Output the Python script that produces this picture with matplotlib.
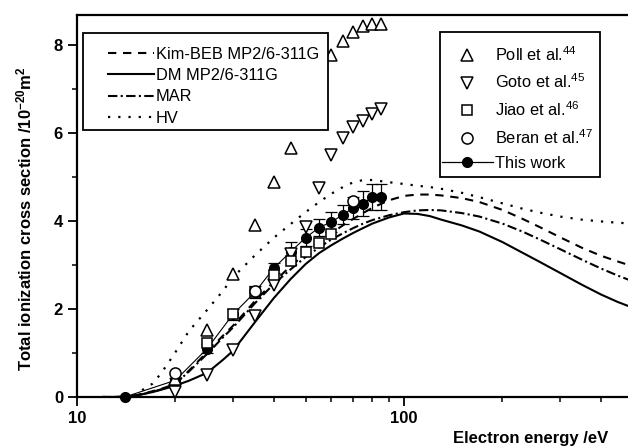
import matplotlib
matplotlib.use("Agg")
import matplotlib.pyplot as plt
from matplotlib.lines import Line2D
from matplotlib.patches import Rectangle
from matplotlib.ticker import FixedLocator, MultipleLocator, NullFormatter, FuncFormatter, LogLocator

plt.rcParams["font.family"] = ["Liberation Sans", "DejaVu Sans"]
plt.rcParams["mathtext.fontset"] = "custom"
plt.rcParams["mathtext.rm"] = "Liberation Sans"
plt.rcParams["mathtext.bf"] = "Liberation Sans:bold"
plt.rcParams["mathtext.it"] = "Liberation Sans:italic"

# --- theory curves ---
E_curve = [12, 13, 14, 15, 16, 17, 18, 19, 20, 22, 25, 28, 30, 35, 40, 45, 50, 55, 60, 65,
           70, 75, 80, 90, 100, 110, 120, 130, 150, 170, 200, 230, 260, 300, 350, 400, 450, 500]
kim_beb = [0, 0, 0.01, 0.03, 0.08, 0.13, 0.18, 0.24, 0.30, 0.60, 1.02, 1.40, 1.62, 2.18, 2.62, 2.97,
           3.27, 3.52, 3.72, 3.90, 4.05, 4.18, 4.30, 4.47, 4.57, 4.60, 4.60, 4.58, 4.52, 4.43, 4.25,
           4.05, 3.86, 3.63, 3.39, 3.21, 3.08, 2.97]
dm = [0, 0, 0.01, 0.03, 0.07, 0.11, 0.16, 0.21, 0.26, 0.37, 0.55, 0.85, 1.05, 1.70, 2.25, 2.68,
      3.02, 3.27, 3.45, 3.60, 3.73, 3.84, 3.94, 4.08, 4.17, 4.16, 4.11, 4.03, 3.90, 3.76, 3.52,
      3.28, 3.07, 2.82, 2.55, 2.33, 2.16, 2.03]
mar = [0, 0, 0.01, 0.03, 0.07, 0.12, 0.17, 0.23, 0.30, 0.58, 0.98, 1.36, 1.58, 2.13, 2.57, 2.90,
       3.18, 3.40, 3.58, 3.72, 3.84, 3.94, 4.02, 4.13, 4.20, 4.24, 4.25, 4.24, 4.18, 4.10, 3.94,
       3.76, 3.58, 3.36, 3.12, 2.92, 2.76, 2.63]
hv = [0, 0, 0, 0.04, 0.18, 0.30, 0.52, 0.77, 1.02, 1.50, 1.98, 2.42, 2.72, 3.22, 3.62, 3.93,
      4.20, 4.43, 4.62, 4.77, 4.88, 4.93, 4.93, 4.88, 4.84, 4.80, 4.77, 4.73, 4.64, 4.54, 4.40,
      4.28, 4.19, 4.10, 4.03, 3.99, 3.96, 3.94]

# --- experimental data ---
E_exp = [20, 25, 30, 35, 40, 45, 50, 55, 60, 65, 70, 75, 80, 85]
poll = [0.41, 1.52, 2.79, 3.91, 4.88, 5.65, 6.45, 7.15, 7.77, 8.08, 8.30, 8.42, 8.48, 8.48]
goto = [0.12, 0.50, 1.07, 1.85, 2.55, 3.25, 3.87, 4.76, 5.50, 5.88, 6.14, 6.28, 6.43, 6.54]

E_jiao = [25, 30, 35, 40, 45, 50, 55, 60]
jiao = [1.23, 1.88, 2.39, 2.77, 3.08, 3.30, 3.50, 3.70]

E_beran = [20, 35, 70]
beran = [0.54, 2.41, 4.46]

E_tw = [14, 20, 25, 30, 35, 40, 45, 50, 55, 60, 65, 70, 75, 80, 85]
this_work = [0.0, 0.38, 1.10, 1.88, 2.38, 2.93, 3.30, 3.62, 3.85, 3.98, 4.14, 4.30, 4.39, 4.55, 4.55]
tw_err = [0, 0.05, 0.10, 0.13, 0.14, 0.12, 0.22, 0.20, 0.20, 0.23, 0.22, 0.25, 0.28, 0.30, 0.30]

W, H = 628, 446
fig = plt.figure(figsize=(W / 100, H / 100), dpi=100)
ax = fig.add_axes([77 / W, 1 - 397 / H, (628 - 77) / W, (397 - 15) / H])

lw = 1.5
ax.plot(E_curve, kim_beb, color="k", lw=lw, dashes=(4, 3.2), zorder=2)
ax.plot(E_curve, dm, color="k", lw=lw, zorder=2)
ax.plot(E_curve, mar, color="k", lw=lw, dashes=(4.5, 1.6, 1, 1.6), zorder=2)
ax.plot(E_curve, hv, color="k", lw=1.6, dashes=(1, 3.6), zorder=2)

eb = ax.errorbar(E_tw, this_work, yerr=tw_err, fmt="-o", color="k", ms=7, lw=0.8,
                 elinewidth=0.9, capsize=4.5, capthick=0.9, zorder=3)
for art in [eb.lines[0], *eb.lines[1], *eb.lines[2]]:
    art.set_clip_on(False)

mk = dict(color="k", mfc="white", mec="k", mew=1.1, ls="none", clip_on=False)
ax.plot(E_exp, goto, marker="v", ms=8.5, zorder=3.1, **mk)
ax.plot(E_exp, poll, marker="^", ms=8.5, zorder=3.1, **mk)
ax.plot(E_jiao, jiao, marker="s", ms=7, zorder=3.2, **mk)
ax.plot(E_beran, beran, marker="o", ms=8, zorder=3.3, **mk)

ax.set_xscale("log")
ax.set_xlim(10, 484)
ax.set_ylim(0, 8.68)
ax.xaxis.set_major_locator(FixedLocator([10, 100]))
ax.xaxis.set_major_formatter(FuncFormatter(lambda v, p: f"{v:.0f}"))
ax.xaxis.set_minor_locator(LogLocator(base=10, subs=range(2, 10)))
ax.xaxis.set_minor_formatter(NullFormatter())
ax.yaxis.set_major_locator(MultipleLocator(2))
ax.yaxis.set_minor_locator(MultipleLocator(1))

for s in ["left", "bottom", "top"]:
    ax.spines[s].set_linewidth(1.6)
ax.spines["right"].set_visible(False)
ax.tick_params(which="major", direction="out", length=6.5, width=1.3, labelsize=12, pad=3.5)
ax.tick_params(which="minor", direction="out", length=3.5, width=1.1)
for lab in ax.get_xticklabels() + ax.get_yticklabels():
    lab.set_fontweight("bold")

# axis labels
fig.text(608 / W, 1 - 438 / H, "Electron energy /eV", ha="right", va="center",
         fontsize=12, fontweight="bold")
fig.text(24 / W, 1 - 219 / H,
         r"Total ionization cross section /10$^{\mathbf{-20}}$m$^{\mathbf{2}}$",
         rotation=90, ha="center", va="center", fontsize=12, fontweight="bold")

# legend boxes
for (x0, y0, x1, y1) in [(83, 33, 328, 130), (440, 32, 600, 177)]:
    ax.add_patch(Rectangle((x0 / W, 1 - y1 / H), (x1 - x0) / W, (y1 - y0) / H,
                           transform=fig.transFigure, facecolor="white", edgecolor="k",
                           lw=1.3, zorder=4, clip_on=False))

h1 = [Line2D([], [], color="k", lw=lw, dashes=(4, 3.2)),
      Line2D([], [], color="k", lw=lw),
      Line2D([], [], color="k", lw=lw, dashes=(4.5, 1.6, 1, 1.6)),
      Line2D([], [], color="k", lw=1.6, dashes=(1, 3.6))]
l1 = ["Kim-BEB MP2/6-311G", "DM MP2/6-311G", "MAR", "HV"]
leg1 = ax.legend(h1, l1, loc="upper left", bbox_to_anchor=(108 / W, 1 - 47 / H),
                 bbox_transform=fig.transFigure, frameon=False, fontsize=11.8,
                 handlelength=2.8, handletextpad=0.1, labelspacing=0.38,
                 borderpad=0, borderaxespad=0)
leg1.set_zorder(5)
ax.add_artist(leg1)

h2 = [Line2D([], [], marker="^", ms=8.5, mfc="white", mec="k", mew=1.1, ls="none"),
      Line2D([], [], marker="v", ms=8.5, mfc="white", mec="k", mew=1.1, ls="none"),
      Line2D([], [], marker="s", ms=7, mfc="white", mec="k", mew=1.1, ls="none"),
      Line2D([], [], marker="o", ms=8, mfc="white", mec="k", mew=1.1, ls="none"),
      Line2D([], [], marker="o", ms=7, color="k", lw=0.9)]
l2 = [r"Poll et al.$^{44}$", r"Goto et al.$^{45}$", r"Jiao et al.$^{46}$",
      r"Beran et al.$^{47}$", "This work"]
leg2 = ax.legend(h2, l2, loc="upper left", bbox_to_anchor=(442 / W, 1 - 45 / H),
                 bbox_transform=fig.transFigure, frameon=False, fontsize=11.8,
                 handlelength=3.1, handletextpad=0.15, labelspacing=0.55,
                 borderpad=0, borderaxespad=0)
leg2.set_zorder(5)

fig.savefig("out.png", dpi=100)
